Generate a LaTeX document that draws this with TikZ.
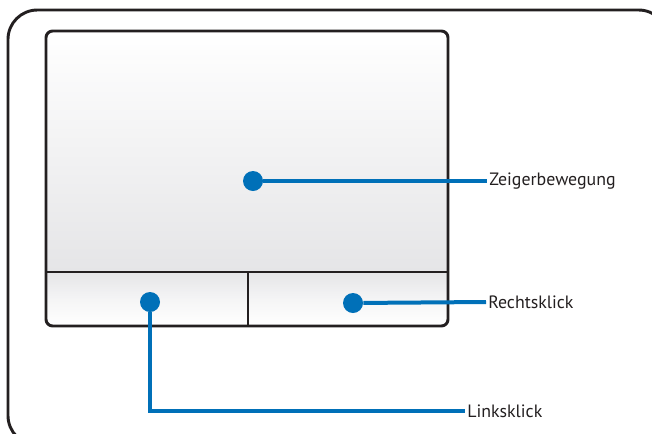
\documentclass[tikz,border=0pt]{standalone}
\usepackage{fontspec}
\setmainfont{PT Sans}
\usetikzlibrary{positioning}
\definecolor{padblue}{RGB}{0,112,184}
\definecolor{framegray}{RGB}{35,31,32}
\definecolor{padgray}{RGB}{229,229,231}

\begin{document}
\begin{tikzpicture}[
  x=0.75pt,y=-0.75pt,
  font=\fontsize{13.4}{15}\selectfont,
  frame/.style={draw=framegray,line width=2.2pt},
  dot/.style={circle,fill=padblue,inner sep=0pt,minimum size=15pt},
  lead/.style={draw=padblue,line width=3pt},
  callout/.style={anchor=west,inner sep=1.5pt,text=framegray}
]
  \useasboundingbox (0,0) rectangle (652,433);
  % outer housing, partly cut off by the page
  \draw[frame,rounded corners=22pt] (8,10) rectangle (668,445);

  % touchpad surface and the two buttons
  \begin{scope}
    \clip[rounded corners=5pt] (46,31) rectangle (448,326);
    \shade[top color=white,bottom color=padgray] (46,31) rectangle (448,272);
    \shade[top color=padgray,bottom color=white,middle color=white!60!padgray]
      (46,272) rectangle (448,326);
  \end{scope}
  \draw[frame,rounded corners=5pt] (46,31) rectangle (448,326);
  \draw[frame] (46,272) -- (448,272);
  \draw[frame] (248,272) -- (248,326);

  \node[dot] (movedot) at (253,181) {};
  \node[dot] (rightdot) at (353,303) {};
  \node[dot] (leftdot) at (150,302) {};

  \node[callout] (movetext) at (487,181) {Zeigerbewegung};
  \node[callout] (righttext) at (486,302) {Rechtsklick};
  \node[callout] (lefttext) at (465,411) {Linksklick};

  \draw[lead] (movedot) -- (movetext.west);
  \draw[lead] (rightdot) -- (righttext.west);
  \draw[lead] (leftdot) |- (lefttext.west);
\end{tikzpicture}
\end{document}
